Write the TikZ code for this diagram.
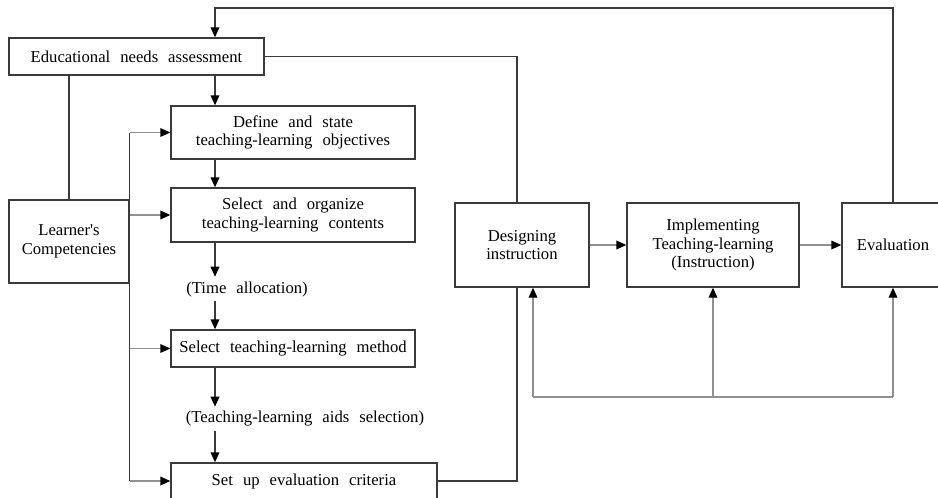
\documentclass[tikz,border=0pt]{standalone}
\usepackage{fontspec}
\setmainfont{Liberation Serif}[WordSpace=2.4]
\usetikzlibrary{arrows.meta}
\definecolor{linegray}{HTML}{3A3A3A}
\definecolor{lightline}{HTML}{909090}
\begin{document}
\begin{tikzpicture}[x=0.75pt, y=-0.75pt,
    every node/.style={font=\fontsize{12.5}{14}\selectfont, align=center},
    box/.style={draw=linegray, line width=1pt, inner sep=0pt},
    line/.style={draw=linegray, line width=1pt},
    arr/.style={line, -{Triangle[length=7.5pt, width=6.5pt, color=black]}},
    garr/.style={draw=lightline, line width=1pt, -{Triangle[length=7.5pt, width=6.5pt, color=black]}},
    gline/.style={draw=lightline, line width=1pt}]
    \useasboundingbox (0,0) rectangle (938,497);

    % Left column
    \node[box, minimum width=191.25pt, minimum height=27.75pt] (edu) at (136.5,56.5) {Educational needs assessment};
    \node[box, minimum width=90pt, minimum height=62.25pt] (lrn) at (69,241.5) {Learner\textquotesingle s\\Competencies};

    % Middle column
    \node[box, minimum width=183pt, minimum height=39.75pt] (def) at (293,132.5) {Define and state\\teaching-learning objectives};
    \node[box, minimum width=183pt, minimum height=40.5pt] (cont) at (293,215) {Select and organize\\teaching-learning contents};
    \node (time) at (247,289) {(Time allocation)};
    \node[box, minimum width=183pt, minimum height=27.75pt] (meth) at (293,348.5) {Select teaching-learning method};
    \node (aids) at (305,419) {(Teaching-learning aids selection)};
    \node[box, minimum width=199.5pt, minimum height=27pt] (setup) at (304,481) {Set up evaluation criteria};

    % Right row
    \node[box, minimum width=100.5pt, minimum height=63pt] (des) at (522,245) {Designing\\instruction};
    \node[box, minimum width=129pt, minimum height=63pt] (impl) at (713,245) {Implementing\\Teaching-learning\\(Instruction)};
    \node[box, minimum width=76.5pt, minimum height=63pt] (eval) at (893,245) {Evaluation};

    % Chain of steps
    \coordinate (loop) at (215,8);
    \draw[arr] (edu.south -| loop) -- (def.north -| loop);
    \draw[arr] (def.south -| loop) -- (cont.north -| loop);
    \draw[arr] (cont.south -| loop) -- (time.north -| loop);
    \draw[arr] (time.south -| loop) -- (meth.north -| loop);
    \draw[arr] (meth.south -| loop) -- (aids.north -| loop);
    \draw[arr] (aids.south -| loop) -- (setup.north -| loop);

    % Learner's competencies
    \draw[line] (lrn.north) -- (lrn.north |- edu.south);
    \draw[line] (def.west -| lrn.east) -- (setup.west -| lrn.east);
    \foreach \n in {def,cont,meth,setup}
        \draw[garr] (\n.west -| lrn.east) -- (\n.west);

    % Into designing
    \draw[line] (edu.east) -| ([xshift=-3.75pt]des.north);
    \draw[line] (setup.east) -| ([xshift=-3.75pt]des.south);

    % Right row
    \draw[garr] (des.east) -- (impl.west);
    \draw[garr] (impl.east) -- (eval.west);
    \draw[arr] (eval.north) |- (loop) -- (loop |- edu.north);

    % Feedback
    \coordinate (fb) at (533,397);
    \draw[gline] (fb) -- (fb -| eval.south);
    \draw[garr] (fb) -- (fb |- des.south);
    \draw[garr] (fb -| impl.south) -- (impl.south);
    \draw[garr] (fb -| eval.south) -- (eval.south);
\end{tikzpicture}
\end{document}
